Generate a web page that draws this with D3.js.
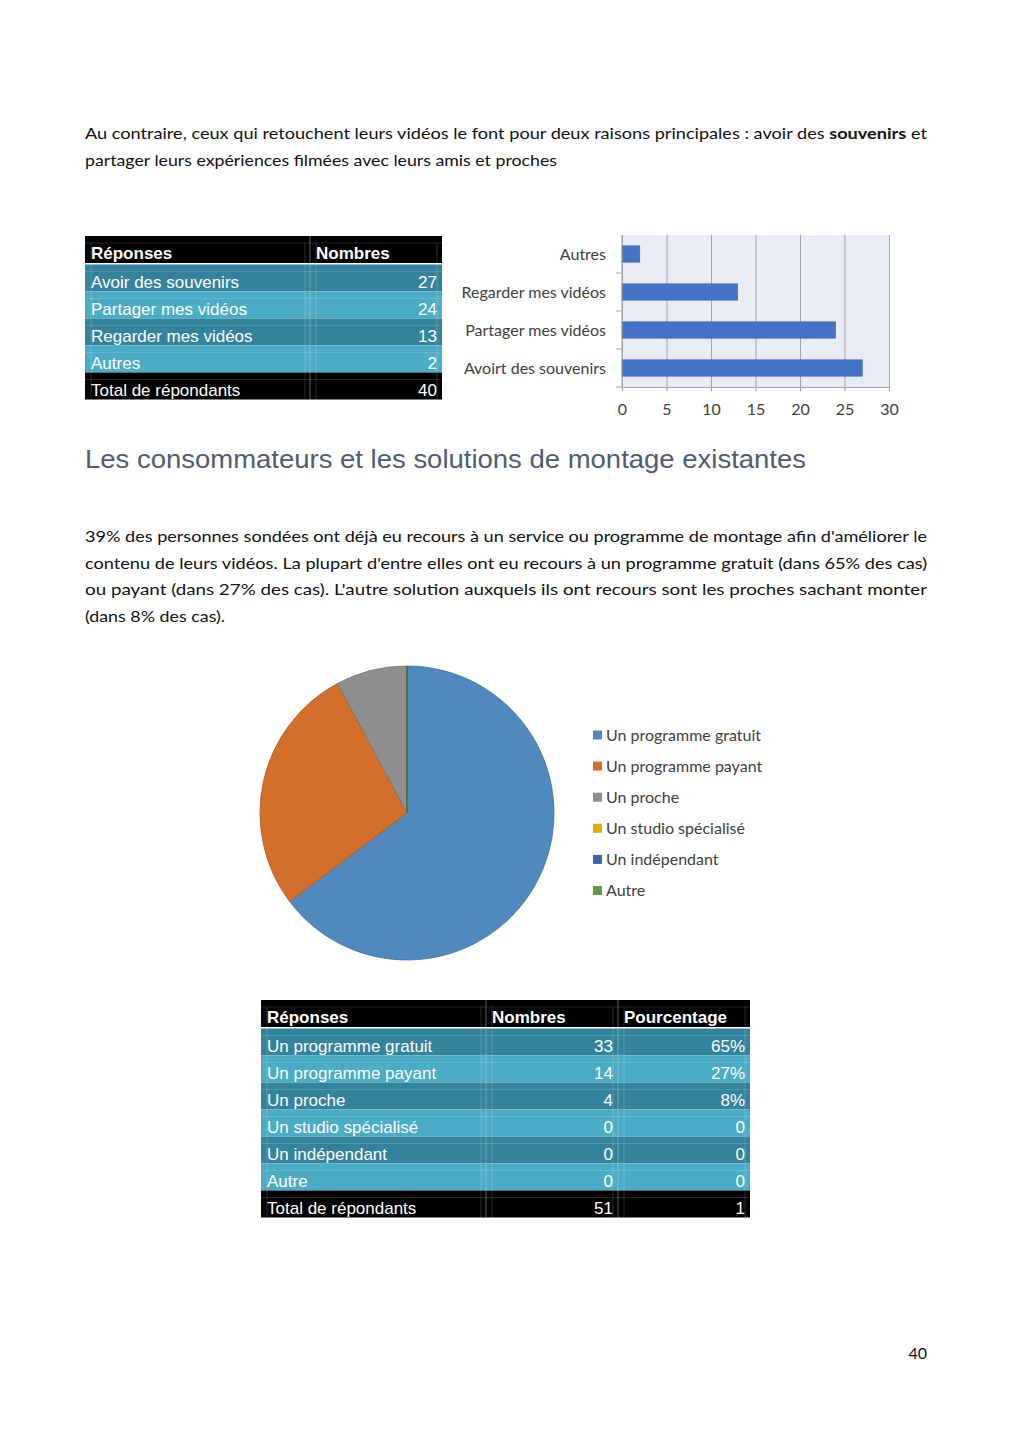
<!DOCTYPE html>
<html>
<head>
<meta charset="utf-8">
<script src="https://cdn.jsdelivr.net/npm/d3@7"></script>
<style>
  body { margin: 0; background: #fff; }
  svg { display: block; }
  .txt { font-family: Lato, "Open Sans", sans-serif; font-size: 16px; fill: #111; }
  .cell { font-family: "Liberation Sans", Arial, sans-serif; font-size: 17px; fill: #fff; }
  .chart text { font-family: Lato, "Open Sans", sans-serif; font-size: 16px; fill: #404040; }
</style>
</head>
<body>
<div id="page"></div>
<script>
// ---- data ----
const reasons = ["Avoir des souvenirs", "Partager mes vidéos", "Regarder mes vidéos", "Autres"];
const reasonCounts = [27, 24, 13, 2];
const reasonTotal = 40;

// the chart spells the first category differently from the table
const barLabels = ["Avoirt des souvenirs", "Partager mes vidéos", "Regarder mes vidéos", "Autres"];
const barTicks = [0, 5, 10, 15, 20, 25, 30];

const solutions = ["Un programme gratuit", "Un programme payant", "Un proche",
                   "Un studio spécialisé", "Un indépendant", "Autre"];
const solutionCounts = [33, 14, 4, 0, 0, 0];
const solutionPercents = ["65%", "27%", "8%", "0", "0", "0"];
const solutionTotal = 51;
const solutionPctTotal = "1";
const pieColors = ["#4f89bd", "#d36f2b", "#8f8f8f", "#e3ad08", "#3c67b0", "#5f9b43"];

const W = 1024, H = 1449;
const svg = d3.select("#page").append("svg")
    .attr("width", W)
    .attr("height", H);

svg.append("rect").attr("width", W).attr("height", H).attr("fill", "#fff");

/*
Text blocks
*/
function textLine(y, len, parts, cls) {
  const t = svg.append("text")
      .attr("class", cls || "txt")
      .attr("x", 85)
      .attr("y", y);
  if (len) t.attr("textLength", len).attr("lengthAdjust", "spacingAndGlyphs");
  parts.forEach(p => {
    const s = t.append("tspan").text(p[0]);
    if (p[1]) s.attr("font-weight", "bold");
  });
  return t;
}

textLine(139, 842, [["Au contraire, ceux qui retouchent leurs vidéos le font pour deux raisons principales : avoir des "],
                    ["souvenirs", true], [" et"]]);
textLine(166, 472, [["partager leurs expériences filmées avec leurs amis et proches"]]);

svg.append("text")
    .attr("x", 85)
    .attr("y", 468)
    .attr("textLength", 721)
    .attr("lengthAdjust", "spacingAndGlyphs")
    .style("font-family", "'Liberation Sans', Arial, sans-serif")
    .style("font-size", "25px")
    .style("fill", "#4f5d73")
    .text("Les consommateurs et les solutions de montage existantes");

textLine(542, 842, [["39% des personnes sondées ont déjà eu recours à un service ou programme de montage afin d'améliorer le"]]);
textLine(568.5, 842, [["contenu de leurs vidéos. La plupart d'entre elles ont eu recours à un programme gratuit (dans 65% des cas)"]]);
textLine(595, 842, [["ou payant (dans 27% des cas). L'autre solution auxquels ils ont recours  sont les proches sachant monter"]]);
textLine(621.5, 140, [["(dans 8% des cas)."]]);

svg.append("text")
    .attr("class", "txt")
    .attr("x", 927)
    .attr("y", 1359)
    .attr("text-anchor", "end")
    .text("40");

/*
Tables
*/
function drawTable(cols, top, header, rows, total) {
  const rowH = 27;
  const g = svg.append("g");
  const x0 = cols[0], x1 = cols[cols.length - 1];
  const bodyTop = top + rowH + 1.5;
  const bottom = bodyTop + rowH * (rows.length + 1);

  g.append("rect").attr("x", x0).attr("y", top)
      .attr("width", x1 - x0).attr("height", rowH).attr("fill", "#000");

  rows.forEach((r, i) => {
    g.append("rect").attr("x", x0).attr("y", bodyTop + i * rowH)
        .attr("width", x1 - x0).attr("height", rowH)
        .attr("fill", i % 2 === 0 ? "#34839c" : "#4bacc6");
  });
  g.append("rect").attr("x", x0).attr("y", bodyTop + rows.length * rowH)
      .attr("width", x1 - x0).attr("height", rowH).attr("fill", "#000");

  // faint spreadsheet grid lines
  const rowTops = [top].concat(d3.range(rows.length + 1).map(i => bodyTop + i * rowH));
  rowTops.forEach(y => {
    g.append("line").attr("x1", x0).attr("x2", x1)
        .attr("y1", y + 7).attr("y2", y + 7)
        .attr("stroke", "#fff").attr("stroke-opacity", 0.18).attr("stroke-width", 0.8);
  });
  cols.slice(1, -1).forEach(x => {
    g.append("line").attr("x1", x).attr("x2", x).attr("y1", top).attr("y2", bottom)
        .attr("stroke", "#c8c8c8").attr("stroke-opacity", 0.6).attr("stroke-width", 0.8);
  });
  cols.forEach((x, i) => {
    [-5, 6].forEach(off => {
      if ((i === 0 && off < 0) || (i === cols.length - 1 && off > 0)) return;
      g.append("line").attr("x1", x + off).attr("x2", x + off).attr("y1", top + 7).attr("y2", bottom)
          .attr("stroke", "#fff").attr("stroke-opacity", 0.22).attr("stroke-width", 0.8);
    });
  });

  function cells(values, y, isHeader) {
    values.forEach((v, c) => {
      const left = c === 0 || isHeader;
      g.append("text")
          .attr("class", "cell")
          .attr("x", left ? cols[c] + 6 : cols[c + 1] - 5)
          .attr("y", y)
          .attr("text-anchor", left ? "start" : "end")
          .attr("font-weight", isHeader ? "bold" : null)
          .text(v);
    });
  }
  cells(header, top + rowH - 4, true);
  rows.forEach((r, i) => cells(r, bodyTop + (i + 1) * rowH - 3.5, false));
  cells(total, bottom - 3.5, false);
}

drawTable([85, 310, 442], 236, ["Réponses", "Nombres"],
    reasons.map((r, i) => [r, String(reasonCounts[i])]),
    ["Total de répondants", String(reasonTotal)]);

drawTable([261, 486, 618, 750], 1000, ["Réponses", "Nombres", "Pourcentage"],
    solutions.map((s, i) => [s, String(solutionCounts[i]), solutionPercents[i]]),
    ["Total de répondants", String(solutionTotal), solutionPctTotal]);

/*
Bar chart
*/
const chart = svg.append("g").attr("class", "chart");
const plotTop = 235, plotBottom = 387;

const x = d3.scaleLinear()
    .domain([0, 30])
    .range([622, 889]);

const y = d3.scaleBand()
    .domain(barLabels.slice().reverse())
    .range([plotTop, plotBottom])
    .paddingInner(0.57)
    .paddingOuter(0.285);

chart.append("rect")
    .attr("x", x(0)).attr("y", plotTop)
    .attr("width", x(30) - x(0)).attr("height", plotBottom - plotTop)
    .attr("fill", "#e9ebf5");

// gridlines
chart.append("g")
    .attr("transform", "translate(0," + plotBottom + ")")
    .call(d3.axisBottom(x).tickValues(barTicks).tickSize(-(plotBottom - plotTop)).tickFormat(""))
    .call(g => g.select(".domain").remove())
    .call(g => g.selectAll("line").attr("stroke", "#a3a3a3"));

chart.selectAll("rect.bar")
    .data(barLabels)
    .enter()
    .append("rect")
    .attr("class", "bar")
    .attr("x", x(0))
    .attr("y", d => y(d))
    .attr("width", (d, i) => x(reasonCounts[i]) - x(0))
    .attr("height", y.bandwidth())
    .attr("fill", "#4472c4")
    .attr("stroke", "#3a64b0")
    .attr("stroke-width", 0.6);

// x axis
chart.append("g")
    .attr("transform", "translate(0," + plotBottom + ")")
    .call(d3.axisBottom(x).tickValues(barTicks).tickSize(4).tickPadding(13))
    .call(g => g.select(".domain").attr("stroke", "#a3a3a3").attr("d", "M" + x(0) + ",0.5H" + x(30)))
    .call(g => g.selectAll("line").attr("stroke", "#a3a3a3"))
    .call(g => g.selectAll("text").style("font-size", "16px").style("font-family", "Lato, 'Open Sans', sans-serif").attr("fill", "#404040"));

// y axis: line, ticks between categories, labels
const yAxis = chart.append("g");
yAxis.append("line")
    .attr("x1", x(0)).attr("x2", x(0))
    .attr("y1", plotTop).attr("y2", plotBottom)
    .attr("stroke", "#a3a3a3");
const gap = y.step() * y.paddingInner();
yAxis.selectAll("line.tick")
    .data(y.domain())
    .enter()
    .append("line")
    .attr("class", "tick")
    .attr("x1", x(0) - 6).attr("x2", x(0))
    .attr("y1", d => y(d) + y.bandwidth() + gap / 2)
    .attr("y2", d => y(d) + y.bandwidth() + gap / 2)
    .attr("stroke", "#a3a3a3");
yAxis.selectAll("text")
    .data(y.domain())
    .enter()
    .append("text")
    .attr("x", x(0) - 16)
    .attr("y", d => y(d) + y.bandwidth() / 2)
    .attr("dy", "0.35em")
    .attr("text-anchor", "end")
    .text(d => d);

/*
Pie chart
*/
const pieG = svg.append("g")
    .attr("transform", "translate(407,813)");

const pie = d3.pie()
    .sort(null)
    .value(d => d);

const arc = d3.arc()
    .innerRadius(0)
    .outerRadius(147);

pieG.selectAll("path")
    .data(pie(solutionCounts))
    .enter()
    .append("path")
    .attr("d", arc)
    .attr("fill", (d, i) => pieColors[i])
    .attr("stroke", (d, i) => d3.color(pieColors[i]).darker(0.6))
    .attr("stroke-width", 0.8)
    .attr("stroke-linejoin", "round");

const legend = svg.append("g").attr("class", "chart")
    .attr("transform", "translate(593,735)");

const legendRow = legend.selectAll("g")
    .data(solutions)
    .enter()
    .append("g")
    .attr("transform", (d, i) => "translate(0," + i * 31.1 + ")");

legendRow.append("rect")
    .attr("x", 0).attr("y", -4.5)
    .attr("width", 9).attr("height", 9)
    .attr("fill", (d, i) => pieColors[i]);

legendRow.append("text")
    .attr("x", 13)
    .attr("dy", "0.35em")
    .style("font-size", "16px")
    .text(d => d);
</script>
</body>
</html>
